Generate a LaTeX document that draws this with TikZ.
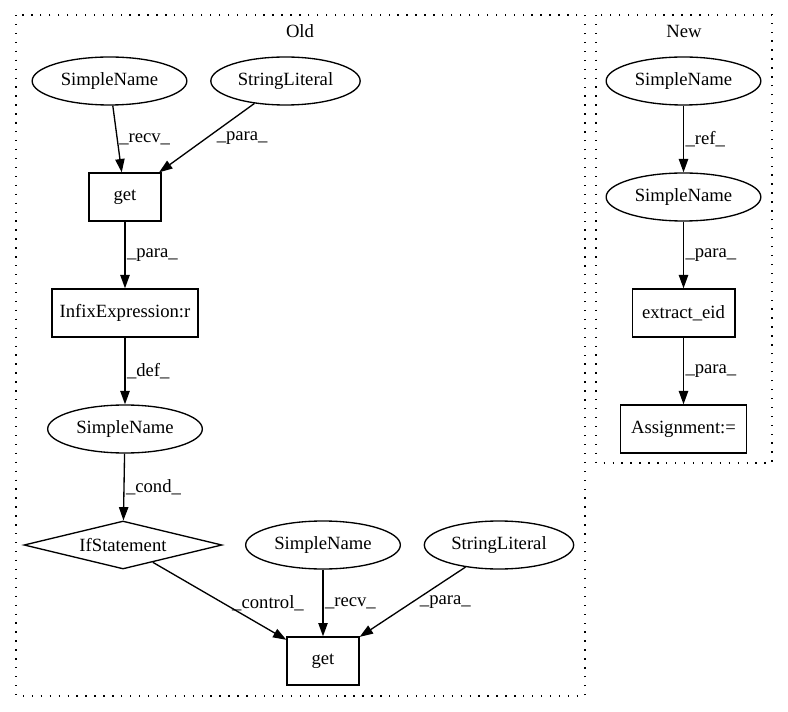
\documentclass[tikz,border=0pt]{standalone}
\usepackage{fontspec}
\setmainfont{Liberation Serif}
\usetikzlibrary{shapes.geometric,arrows.meta}

\begin{document}
\begin{tikzpicture}[x=0.75pt,y=-0.75pt,
  line width=1pt,font=\fontsize{14}{16}\selectfont,
  >={Triangle[length=10pt,width=7pt]},
  name node/.style={ellipse,draw,minimum width=116pt,minimum height=36pt,inner sep=0pt},
  lit node/.style={ellipse,draw,minimum width=112pt,minimum height=36pt,inner sep=0pt},
  op node/.style={rectangle,draw,minimum width=54pt,minimum height=36pt,inner sep=0pt},
  cond node/.style={diamond,draw,aspect=4,minimum width=148.5pt,minimum height=36pt,inner sep=0pt},
  group/.style={draw,dash pattern=on 1pt off 5.7pt}]

  \useasboundingbox (0,0) rectangle (788,712);

  % clusters
  \draw[group] (16,15) rectangle (585,696);
  \draw[group] (596,15) rectangle (772,463);
  \node (old) at (300,31) {Old};
  \node (new) at (684,31) {New};

  % old
  \node[name node] (sn1) at (109.5,81) {SimpleName};
  \node[lit node] (sl1) at (285.5,81) {StringLiteral};
  \node[op node] (get1) at (125,197) {get};
  \node[op node,minimum width=109.5pt] (infix) at (125,313) {InfixExpression:r};
  \node[name node] (sn2) at (125,429) {SimpleName};
  \node[cond node] (ifst) at (123,545) {IfStatement};
  \node[name node] (sn3) at (323,545) {SimpleName};
  \node[lit node] (sl3) at (499,545) {StringLiteral};
  \node[op node] (get2) at (323,661) {get};

  % new
  \node[name node] (nsn1) at (683.5,81) {SimpleName};
  \node[name node] (nsn2) at (683.5,197) {SimpleName};
  \node[op node,minimum width=77pt] (eid) at (683.5,313) {extract\_eid};
  \node[op node,minimum width=94.5pt] (assign) at (683.5,429) {Assignment:=};

  \path[->,every node/.style={right,inner sep=1pt}]
   (sn1) edge node{\_recv\_} (get1)
   (sl1) edge node[xshift=6pt]{\_para\_} (get1)
   (get1) edge node{\_para\_} (infix)
   (infix) edge node{\_def\_} (sn2)
   (sn2) edge node{\_cond\_} (ifst)
   (ifst) edge node[xshift=8pt,yshift=-2pt]{\_control\_} (get2)
   (sn3) edge node{\_recv\_} (get2)
   (sl3) edge node[xshift=4pt]{\_para\_} (get2)
   (nsn1) edge node{\_ref\_} (nsn2)
   (nsn2) edge node{\_para\_} (eid)
   (eid) edge node{\_para\_} (assign);
\end{tikzpicture}
\end{document}
